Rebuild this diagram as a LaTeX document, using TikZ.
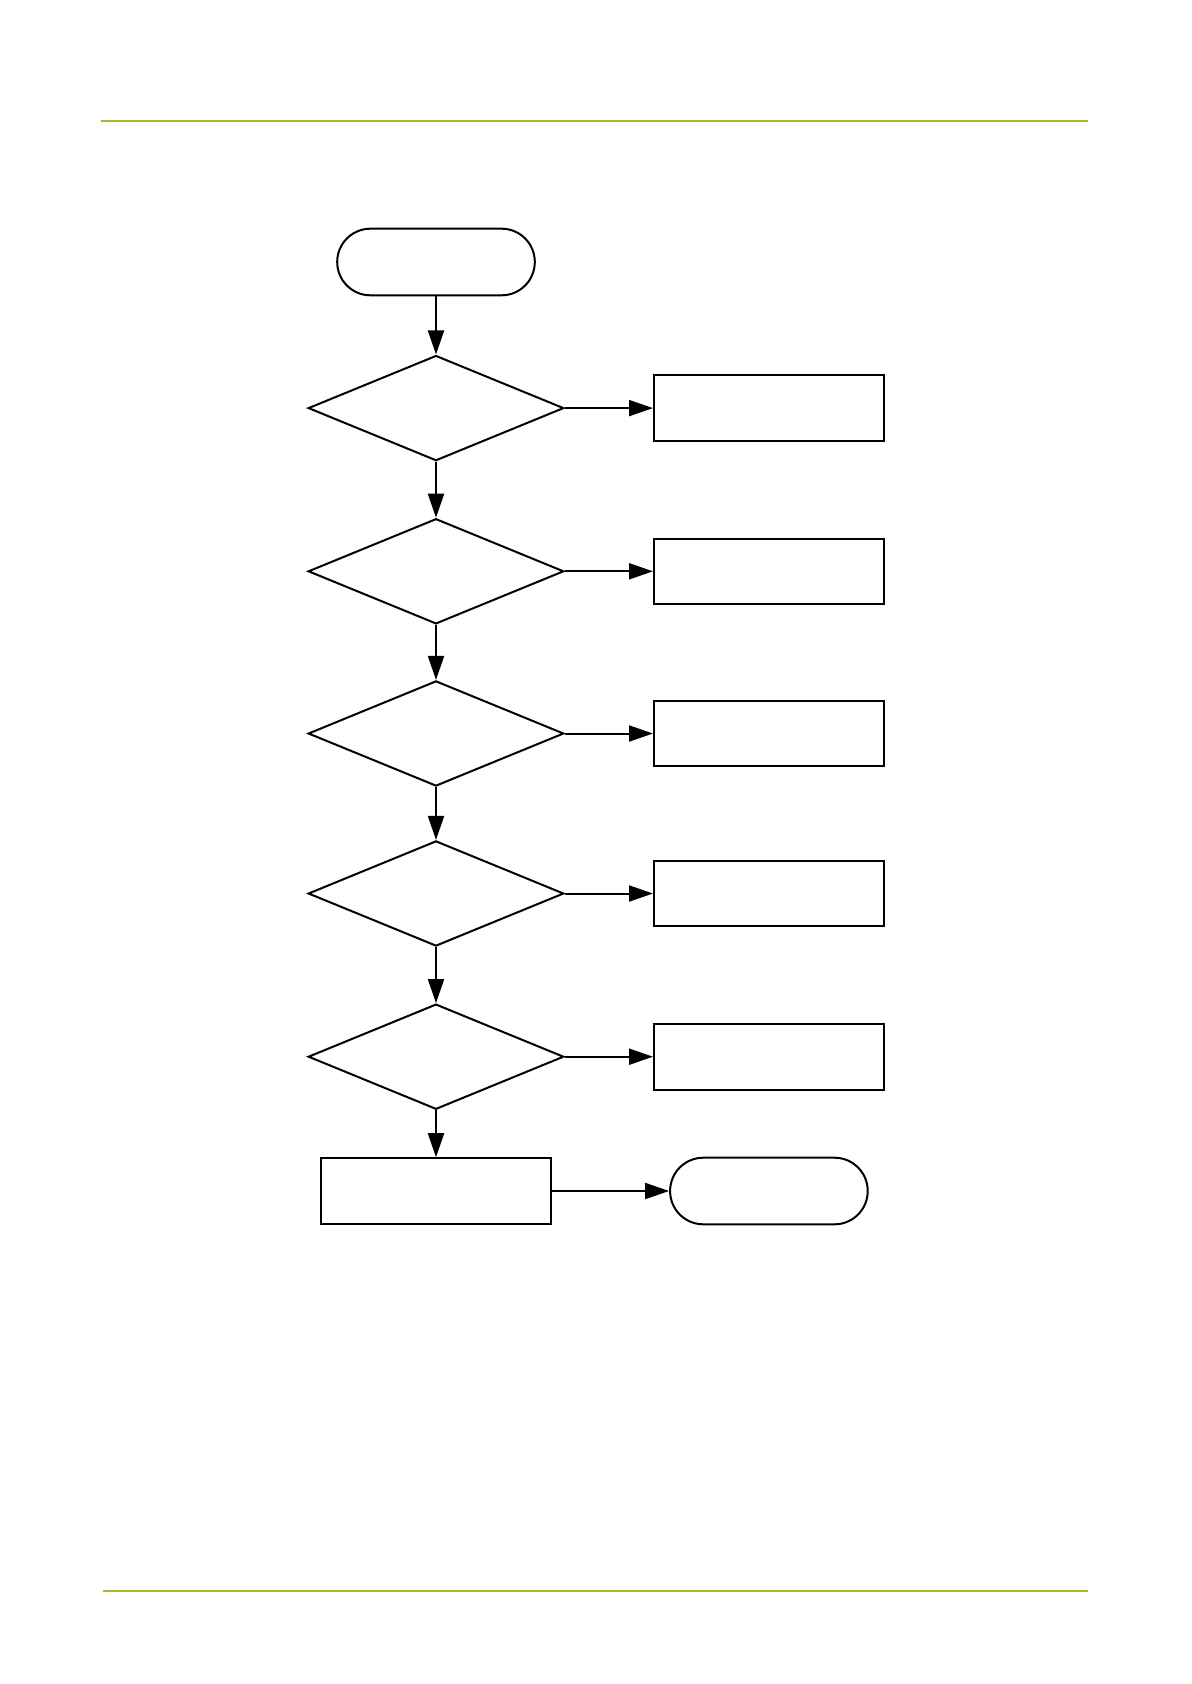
\documentclass[tikz,border=0pt]{standalone}
\usetikzlibrary{shapes.geometric,arrows.meta}
\definecolor{rulegreen}{RGB}{166,186,42}
\tikzset{
  term/.style={draw,line width=1pt,rounded corners=16.6pt,minimum width=98.8pt,minimum height=33.3pt,inner sep=0pt},
  dec/.style={draw,diamond,line width=1pt,minimum width=127.8pt,minimum height=52.6pt,inner sep=0pt},
  proc/.style={draw,rectangle,line width=1pt,minimum width=114.9pt,minimum height=32.8pt,inner sep=0pt},
  conn/.style={line width=1pt,-{Triangle[length=12pt,width=8pt]}},
  hrule/.style={rulegreen,line width=1pt}
}
\begin{document}
\begin{tikzpicture}[x=0.5pt,y=-0.5pt]
\useasboundingbox (0,0) rectangle (1191,1684);
\coordinate (tl) at (101,121.4);
\coordinate (tr) at (1088,121.4);
\coordinate (bl) at (103,1590.5);
\coordinate (br) at (1088,1590.5);
\draw[hrule] (tl) -- (tr);
\draw[hrule] (bl) -- (br);

\node[term] (start) at (436,262) {};
\node[dec] (d1) at (436,408.1) {};
\node[dec] (d2) at (436,571.3) {};
\node[dec] (d3) at (436,733.5) {};
\node[dec] (d4) at (436,893.5) {};
\node[dec] (d5) at (436,1056.7) {};
\node[proc] (r1) at (768.9,408.1) {};
\node[proc] (r2) at (768.9,571.3) {};
\node[proc] (r3) at (768.9,733.5) {};
\node[proc] (r4) at (768.9,893.5) {};
\node[proc] (r5) at (768.9,1056.7) {};
\node[proc] (fin) at (436,1191) {};
\node[term] (end) at (768.9,1191) {};

\draw[conn] (start) -- (d1);
\draw[conn] (d1) -- (d2);
\draw[conn] (d2) -- (d3);
\draw[conn] (d3) -- (d4);
\draw[conn] (d4) -- (d5);
\draw[conn] (d5) -- (fin);
\draw[conn] (d1) -- (r1);
\draw[conn] (d2) -- (r2);
\draw[conn] (d3) -- (r3);
\draw[conn] (d4) -- (r4);
\draw[conn] (d5) -- (r5);
\draw[conn] (fin) -- (end);
\end{tikzpicture}
\end{document}
